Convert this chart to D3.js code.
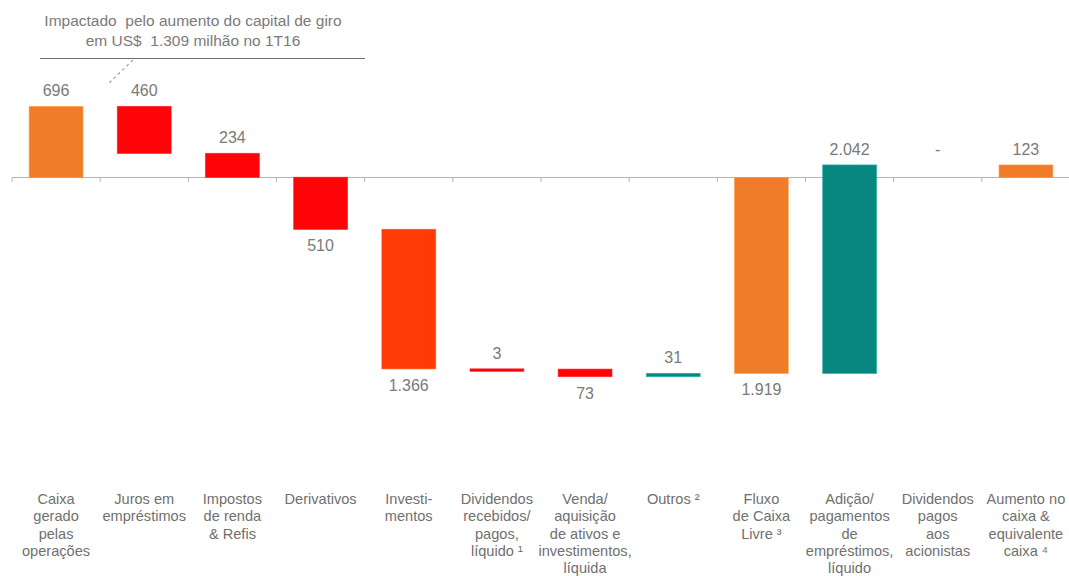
<!DOCTYPE html>
<html>
<head>
<meta charset="utf-8">
<script src="https://cdn.jsdelivr.net/npm/d3@7"></script>
<style>
  html, body { margin: 0; padding: 0; background: #ffffff; }
  svg { display: block; }
  text { font-family: "Liberation Sans", Arial, sans-serif; }
</style>
</head>
<body>
<svg id="chart" width="1069" height="576"></svg>
<script>
// ---- data ----
const categories = [
  "Caixa gerado pelas operações",
  "Juros em empréstimos",
  "Impostos de renda & Refis",
  "Derivativos",
  "Investimentos",
  "Dividendos recebidos/pagos, líquido ¹",
  "Venda/aquisição de ativos e investimentos, líquida",
  "Outros ²",
  "Fluxo de Caixa Livre ³",
  "Adição/pagamentos de empréstimos, líquido",
  "Dividendos pagos aos acionistas",
  "Aumento no caixa & equivalente caixa ⁴"
];
const categoryLines = [
  ["Caixa", "gerado", "pelas", "operações"],
  ["Juros em", "empréstimos"],
  ["Impostos", "de renda", "& Refis"],
  ["Derivativos"],
  ["Investi-", "mentos"],
  ["Dividendos", "recebidos/", "pagos,", "líquido ¹"],
  ["Venda/", "aquisição", "de ativos e", "investimentos,", "líquida"],
  ["Outros ²"],
  ["Fluxo", "de Caixa", "Livre ³"],
  ["Adição/", "pagamentos", "de", "empréstimos,", "líquido"],
  ["Dividendos", "pagos", "aos", "acionistas"],
  ["Aumento no", "caixa &", "equivalente", "caixa ⁴"]
];
// signed values (US$ milhões)
const values = [696, -460, -234, -510, -1366, -3, -73, 31, -1919, 2042, 0, 123];
// "total" bars start at zero, "delta" bars float from the running total
const kinds = ["total", "delta", "delta", "delta", "delta", "delta", "delta", "delta", "total", "delta", "delta", "total"];
const groups = ["Caixa", "Saída", "Saída", "Saída", "Investimentos", "Saída", "Saída", "Entrada", "Caixa", "Entrada", "Saída", "Caixa"];
const valueLabels = ["696", "460", "234", "510", "1.366", "3", "73", "31", "1.919", "2.042", "-", "123"];
const labelSides = ["above", "above", "above", "below", "below", "above", "below", "above", "below", "above", "above", "above"];
const annotationLines = ["Impactado  pelo aumento do capital de giro", "em US$  1.309 milhão no 1T16"];

// ---- waterfall computation ----
let running = 0;
const bars = categories.map((c, i) => {
  let start, end;
  if (kinds[i] === "total") { start = 0; end = values[i]; running = values[i]; }
  else { start = running; end = running + values[i]; running = end; }
  return { cat: c, i, start, end, lo: Math.min(start, end), hi: Math.max(start, end) };
});

// ---- scales ----
const svg = d3.select("#chart");
const zeroY = 177.5, pxPerUnit = 0.1021;
const y = d3.scaleLinear().domain([-2000, 800]).range([zeroY + 2000 * pxPerUnit, zeroY - 800 * pxPerUnit]);
const x = d3.scaleBand().domain(categories).range([12, 1070]).paddingInner(0.39).paddingOuter(0.195);
const color = d3.scaleOrdinal()
  .domain(["Caixa", "Saída", "Investimentos", "Entrada"])
  .range(["#F07C2A", "#FF0408", "#FF3A05", "#078780"]);

// ---- axis (zero line with ticks between categories) ----
const axis = d3.axisBottom(x).tickSize(0).tickFormat("");
const gAxis = svg.append("g").attr("transform", `translate(0,${y(0)})`).call(axis);
gAxis.select(".domain").attr("stroke", "#b4b4b4").attr("stroke-width", 1.2).attr("d", `M12,0H1069`);
const step = x.step();
const boundaries = d3.range(0, categories.length).map(i => x(categories[i]) - (step - x.bandwidth()) / 2);
gAxis.selectAll(".bnd").data(boundaries).join("line")
  .attr("class", "bnd")
  .attr("x1", d => d).attr("x2", d => d)
  .attr("y1", 0).attr("y2", 4.5)
  .attr("stroke", "#b4b4b4").attr("stroke-width", 1);

// ---- bars ----
svg.append("g").selectAll("rect").data(bars.filter(b => b.hi - b.lo > 0)).join("rect")
  .attr("x", d => x(d.cat))
  .attr("width", x.bandwidth())
  .attr("y", d => y(d.hi))
  .attr("height", d => Math.max(2.5, y(d.lo) - y(d.hi)))
  .attr("fill", d => color(groups[d.i]))
  .attr("stroke", d => d3.color(color(groups[d.i])).brighter(0.6))
  .attr("stroke-opacity", 0.6)
  .attr("stroke-width", 1);

// ---- value labels ----
svg.append("g").selectAll("text").data(bars).join("text")
  .attr("x", d => x(d.cat) + x.bandwidth() / 2)
  .attr("y", d => labelSides[d.i] === "above" ? y(d.hi) - 10 : y(d.lo) + 22)
  .attr("text-anchor", "middle")
  .attr("font-size", 16)
  .attr("fill", "#7a7a7a")
  .text(d => valueLabels[d.i]);

// ---- category labels ----
const gCat = svg.append("g");
categories.forEach((c, i) => {
  const t = gCat.append("text")
    .attr("text-anchor", "middle")
    .attr("font-size", 14.6)
    .attr("fill", "#707070")
    .attr("x", x(c) + x.bandwidth() / 2)
    .attr("y", 504);
  categoryLines[i].forEach((ln, j) => {
    t.append("tspan").attr("x", x(c) + x.bandwidth() / 2).attr("dy", j === 0 ? 0 : 17.3).text(ln);
  });
});

// ---- annotation ----
const gAnn = svg.append("g");
annotationLines.forEach((ln, j) => {
  gAnn.append("text")
    .attr("x", 193).attr("y", 26 + j * 20)
    .attr("text-anchor", "middle")
    .attr("font-size", 15.5)
    .attr("fill", "#7a7a7a")
    .style("white-space", "pre")
    .text(ln);
});
gAnn.append("line").attr("x1", 40).attr("x2", 365).attr("y1", 58.5).attr("y2", 58.5)
  .attr("stroke", "#6e6e6e").attr("stroke-width", 1.2);
gAnn.append("line").attr("x1", 133).attr("y1", 60).attr("x2", 107).attr("y2", 85)
  .attr("stroke", "#a0a0a0").attr("stroke-width", 1.2).attr("stroke-dasharray", "3,3");
</script>
</body>
</html>
